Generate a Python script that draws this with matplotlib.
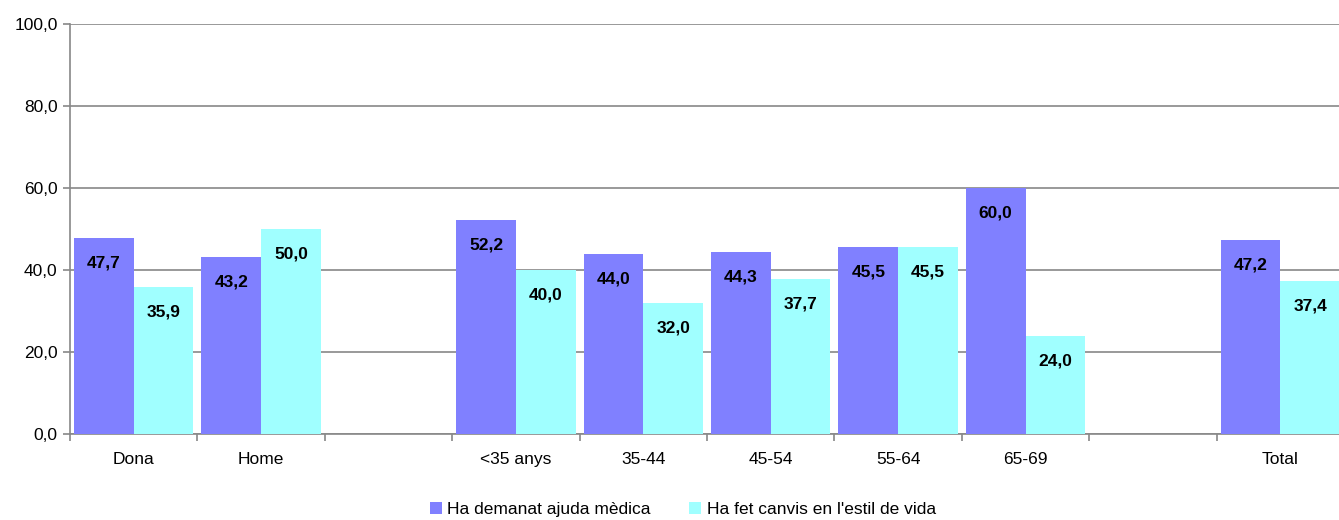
"""
Bar chart: ajuda mèdica vs canvis en l'estil de vida
"""

import numpy as np
import matplotlib
matplotlib.use('Agg')
import matplotlib.pyplot as plt

plt.rcParams['font.family'] = ['Liberation Sans', 'DejaVu Sans']

# Data (None = empty slot between groups)
categories = ['Dona', 'Home', '', '<35 anys', '35-44', '45-54', '55-64', '65-69', '', 'Total']
ajuda_medica = [47.7, 43.2, None, 52.2, 44.0, 44.3, 45.5, 60.0, None, 47.2]
canvis_vida = [35.9, 50.0, None, 40.0, 32.0, 37.7, 45.5, 24.0, None, 37.4]
series_names = ['Ha demanat ajuda mèdica', "Ha fet canvis en l'estil de vida"]
colors = ['#8080FF', '#A0FFFF']

fig = plt.figure(figsize=(13.39, 5.2), dpi=100)
ax = fig.add_axes([70 / 1339, 86 / 520, 1274 / 1339, 410 / 520])

x = np.arange(len(categories))
width = 0.468

for i, (vals, color, name) in enumerate(zip([ajuda_medica, canvis_vida], colors, series_names)):
    xs = [xi for xi, v in zip(x, vals) if v is not None]
    ys = [v for v in vals if v is not None]
    offset = (i - 0.5) * width
    bars = ax.bar(np.array(xs) + offset, ys, width, color=color, label=name, zorder=3)
    # value labels inside the top of each bar
    for bar, v in zip(bars, ys):
        ax.annotate(f'{v:.1f}'.replace('.', ','),
                    (bar.get_x() + bar.get_width() / 2, v),
                    xytext=(0, -25), textcoords='offset pixels',
                    ha='center', va='center', fontsize=12.5, fontweight='bold', zorder=4)

ax.set_xlim(-0.5, len(categories) - 0.5)
ax.set_ylim(0, 100)
yticks = np.arange(0, 101, 20)
ax.set_yticks(yticks)
ax.set_yticklabels([f'{t:.1f}'.replace('.', ',') for t in yticks], fontsize=12.5)

# category labels centred, tick marks at slot boundaries
ax.set_xticks(x)
ax.set_xticklabels(categories, fontsize=12.5)
ax.tick_params(axis='x', length=0, pad=13)
ax.set_xticks(np.arange(-0.5, len(categories) + 0.5, 1), minor=True)
ax.tick_params(axis='x', which='minor', length=5, width=1.2, color='#888888', direction='out')
ax.tick_params(axis='y', length=5, width=1.2, color='#888888', pad=4)

ax.grid(axis='y', color='#888888', linewidth=1.2, zorder=0)
for side in ['top', 'right']:
    ax.spines[side].set_visible(False)
for side in ['left', 'bottom']:
    ax.spines[side].set_color('#888888')
    ax.spines[side].set_linewidth(1.2)

fig.legend(loc='lower center', bbox_to_anchor=(0.51, -0.025), ncol=2, frameon=False,
           fontsize=12.5, handlelength=0.7, handleheight=0.7, handletextpad=0.3,
           columnspacing=2.2)

fig.savefig('out.png', dpi=100)
plt.close()
